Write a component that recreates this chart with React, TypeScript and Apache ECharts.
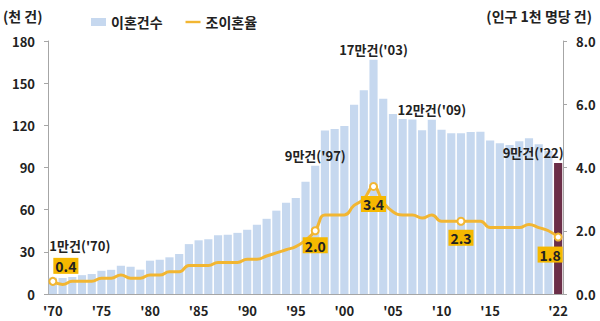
import React, { useEffect, useRef } from "react";
import * as echarts from "echarts";

const years = [
  "1970","1971","1972","1973","1974","1975","1976","1977","1978","1979",
  "1980","1981","1982","1983","1984","1985","1986","1987","1988","1989",
  "1990","1991","1992","1993","1994","1995","1996","1997","1998","1999",
  "2000","2001","2002","2003","2004","2005","2006","2007","2008","2009",
  "2010","2011","2012","2013","2014","2015","2016","2017","2018","2019",
  "2020","2021","2022",
];

// 이혼건수 (천 건)
const divorceCount = [
  11.6, 11.4, 12.1, 13.4, 14.2, 16.5, 17.2, 20.1, 19.4, 17.3,
  23.7, 24.3, 26.1, 28.4, 35.5, 38.2, 38.9, 41.8, 42.1, 43.5,
  45.7, 49.2, 53.5, 59.3, 65.0, 68.3, 79.9, 91.2, 116.3, 117.4,
  119.5, 134.6, 144.9, 166.6, 138.9, 128.0, 124.5, 124.1, 116.5, 124.0,
  116.9, 114.3, 114.3, 115.3, 115.5, 109.2, 107.3, 106.0, 108.7, 110.8,
  106.5, 101.7, 93.2,
];

// 조이혼율 (인구 1천 명당 건)
const divorceRate = [
  0.4, 0.3, 0.4, 0.4, 0.4, 0.5, 0.5, 0.6, 0.5, 0.5,
  0.6, 0.6, 0.7, 0.7, 0.9, 0.9, 0.9, 1.0, 1.0, 1.0,
  1.1, 1.1, 1.2, 1.3, 1.4, 1.5, 1.7, 2.0, 2.5, 2.5,
  2.5, 2.8, 3.0, 3.4, 2.9, 2.6, 2.5, 2.5, 2.4, 2.5,
  2.3, 2.3, 2.3, 2.3, 2.3, 2.1, 2.1, 2.1, 2.1, 2.2,
  2.1, 2.0, 1.8,
];

// count annotations: year -> text
const countNotes: { year: string; text: string }[] = [
  { year: "1970", text: "1만건('70)" },
  { year: "1997", text: "9만건('97)" },
  { year: "2003", text: "17만건('03)" },
  { year: "2009", text: "12만건('09)" },
  { year: "2022", text: "9만건('22)" },
];

// highlighted rate points
const rateHighlights = ["1970", "1997", "2003", "2012", "2022"];

const xTickYears = ["1970","1975","1980","1985","1990","1995","2000","2005","2010","2015","2022"];

const FONT = "'Noto Sans CJK KR', 'Noto Sans', sans-serif";
const BAR_COLOR = "#C6D8EF";
const LAST_BAR_COLOR = "#6B2E48";
const LINE_COLOR = "#F2B632";
const BOX_COLOR = "#F5B800";
const TEXT = "#222";

export default function App() {
  const ref = useRef<HTMLDivElement>(null);

  useEffect(() => {
    if (!ref.current) return;
    const chart = echarts.init(ref.current, undefined, { renderer: "svg" });

    const noteOffsets: Record<string, number[]> = {
      "1970": [27, -22],
      "1997": [0, 0],
      "2003": [0, 0],
      "2009": [0, 0],
      "2022": [-25, 0],
    };

    const barData = divorceCount.map((v, i) => {
      const y = years[i];
      const note = countNotes.find((n) => n.year === y);
      const item: any = { value: v };
      if (i === years.length - 1) item.itemStyle = { color: LAST_BAR_COLOR };
      if (note) {
        item.label = {
          show: true,
          position: "top",
          distance: 4,
          offset: noteOffsets[y],
          formatter: note.text,
          fontFamily: FONT,
          fontWeight: "bold",
          fontSize: 13,
          color: TEXT,
        };
      }
      return item;
    });

    const rateOffsets: Record<string, { pos: string; off: number[]; dist: number }> = {
      "1970": { pos: "top", off: [13, 2], dist: 5 },
      "1997": { pos: "bottom", off: [0, 0], dist: 2 },
      "2003": { pos: "bottom", off: [0, 0], dist: 5 },
      "2012": { pos: "bottom", off: [0, 0], dist: 4 },
      "2022": { pos: "bottom", off: [-8, 0], dist: 5 },
    };

    const lineData = divorceRate.map((v, i) => {
      const y = years[i];
      const item: any = { value: v };
      if (rateHighlights.includes(y)) {
        const o = rateOffsets[y];
        item.symbolSize = 7;
        item.itemStyle = { color: "#fff", borderColor: LINE_COLOR, borderWidth: 2 };
        item.label = {
          show: true,
          position: o.pos,
          distance: o.dist,
          offset: o.off,
          formatter: v.toFixed(1),
          backgroundColor: BOX_COLOR,
          color: TEXT,
          fontFamily: FONT,
          fontWeight: "bold",
          fontSize: 14,
          lineHeight: 15,
          padding: [1, 2, 0, 2],
        };
      }
      return item;
    });

    chart.setOption({
      animation: false,
      backgroundColor: "#fff",
      textStyle: { fontFamily: FONT },
      grid: { left: 48, right: 37, top: 41, bottom: 27, containLabel: false },
      legend: {
        left: 86,
        top: 10,
        itemWidth: 15,
        itemHeight: 8,
        itemGap: 23,
        textStyle: { fontFamily: FONT, fontWeight: "bold", fontSize: 14, color: TEXT },
        data: [
          { name: "이혼건수", icon: "rect" },
          { name: "조이혼율", icon: "path://M0,0 M0,2.8 L15,2.8 L15,5.2 L0,5.2 Z M15,8" },
        ],
      },
      graphic: [
        {
          type: "text",
          left: 3,
          top: 9,
          style: { text: "(천 건)", fontFamily: FONT, fontWeight: "bold", fontSize: 14, fill: TEXT },
        },
        {
          type: "text",
          right: 8,
          top: 9,
          style: { text: "(인구 1천 명당 건)", fontFamily: FONT, fontWeight: "bold", fontSize: 14, fill: TEXT },
        },
      ],
      xAxis: {
        type: "category",
        data: years,
        axisTick: { show: false },
        axisLine: { lineStyle: { color: "#A6A6A6" } },
        axisLabel: {
          interval: (i: number) => xTickYears.includes(years[i]),
          formatter: (v: string) => "'" + v.slice(2),
          fontFamily: FONT,
          fontWeight: "bold",
          fontSize: 13,
          color: TEXT,
          margin: 10,
        },
      },
      yAxis: [
        {
          type: "value",
          min: 0,
          max: 180,
          interval: 30,
          splitLine: { show: false },
          axisLine: { show: true, lineStyle: { color: "#A6A6A6" } },
          axisTick: { show: true, length: 4, lineStyle: { color: "#A6A6A6" } },
          axisLabel: { fontFamily: FONT, fontWeight: "bold", fontSize: 13, color: TEXT, margin: 13 },
        },
        {
          type: "value",
          min: 0,
          max: 8,
          interval: 2,
          position: "right",
          splitLine: { show: false },
          axisLine: { show: true, lineStyle: { color: "#A6A6A6" } },
          axisTick: { show: true, length: 4, lineStyle: { color: "#A6A6A6" } },
          axisLabel: {
            formatter: (v: number) => v.toFixed(1),
            fontFamily: FONT,
            fontWeight: "bold",
            fontSize: 13,
            color: TEXT,
            margin: 13,
          },
        },
      ],
      series: [
        {
          name: "이혼건수",
          type: "bar",
          data: barData,
          barCategoryGap: "16%",
          itemStyle: { color: BAR_COLOR },
          yAxisIndex: 0,
          z: 2,
        },
        {
          name: "조이혼율",
          type: "line",
          yAxisIndex: 1,
          data: lineData,
          smooth: 0.5,
          symbol: "circle",
          symbolSize: 0,
          showSymbol: true,
          showAllSymbol: true,
          lineStyle: { color: LINE_COLOR, width: 3 },
          itemStyle: { color: LINE_COLOR },
          z: 3,
        },
      ],
    });

    return () => chart.dispose();
  }, []);

  return (
    <div
      ref={ref}
      style={{ position: "fixed", left: 0, top: 0, width: 600, height: 321 }}
    />
  );
}
